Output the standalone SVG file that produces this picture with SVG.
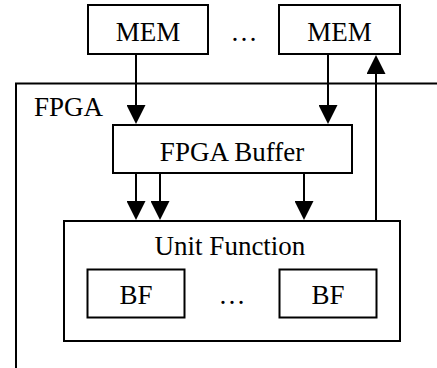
<svg xmlns="http://www.w3.org/2000/svg" width="437" height="368" viewBox="0 0 437 368">
<style>
.box{fill:#fff;stroke:#000;stroke-width:2}
.frame{fill:none;stroke:#000;stroke-width:2}
.t{font-family:"Liberation Serif","Times New Roman",serif;font-size:27px;fill:#000;text-anchor:middle}
.tl{font-family:"Liberation Serif","Times New Roman",serif;font-size:27px;fill:#000}
.c{stroke:#000;stroke-width:2;fill:none;marker-end:url(#ah)}
</style>
<defs>
<marker id="ah" viewBox="0 0 19 19" refX="14" refY="9.5" markerWidth="19" markerHeight="19" markerUnits="userSpaceOnUse" orient="auto">
<path d="M0,0 L19,9.5 L0,19 Z" fill="#000"/>
</marker>
</defs>
<g id="fpga">
<path class="frame" d="M16,372 L16,83.5 L440,83.5"/>
<text class="tl" x="34" y="116">FPGA</text>
</g>
<g id="mem1"><rect class="box" x="88" y="5" width="120" height="49"/><text class="t" x="148" y="41">MEM</text></g>
<g id="mem-dots"><text class="t" x="244" y="41">…</text></g>
<g id="mem2"><rect class="box" x="279" y="5" width="121" height="49"/><text class="t" x="339.5" y="41">MEM</text></g>
<g id="buffer"><rect class="box" x="113" y="125" width="239" height="48"/><text class="t" x="232" y="161">FPGA Buffer</text></g>
<g id="unit-function"><rect class="box" x="64" y="221" width="336" height="120"/><text class="t" x="230" y="255">Unit Function</text></g>
<g id="bf1"><rect class="box" x="87.5" y="269.5" width="97" height="48"/><text class="t" x="136" y="304">BF</text></g>
<g id="bf-dots"><text class="t" x="232" y="304">…</text></g>
<g id="bf2"><rect class="box" x="279.5" y="269.5" width="97" height="48"/><text class="t" x="328" y="304">BF</text></g>
<g id="connectors">
<line class="c" x1="136" y1="54" x2="136" y2="119"/>
<line class="c" x1="328" y1="54" x2="328" y2="119"/>
<line class="c" x1="136" y1="173" x2="136" y2="215"/>
<line class="c" x1="160" y1="173" x2="160" y2="215"/>
<line class="c" x1="304" y1="173" x2="304" y2="215"/>
<line class="c" x1="376" y1="221" x2="376" y2="60"/>
</g>
</svg>
